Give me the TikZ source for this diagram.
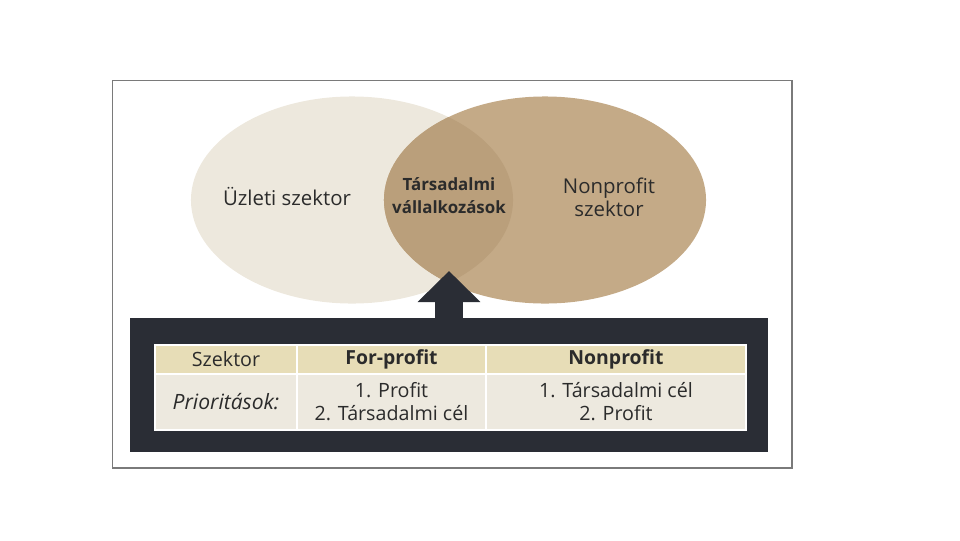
\documentclass[tikz,border=0pt]{standalone}
\usepackage{fontspec}
\setmainfont{Open Sans}
\usetikzlibrary{arrows.meta,shapes.geometric}
\definecolor{uzletfill}{HTML}{EDE8DD}
\definecolor{nonproffill}{HTML}{C4AA87}
\definecolor{metszetfill}{HTML}{BA9F7B}
\definecolor{sotet}{HTML}{2A2D35}
\definecolor{fejlec}{HTML}{E7DDB7}
\definecolor{torzs}{HTML}{EDE9DF}
\definecolor{szoveg}{HTML}{2B2B2B}
\definecolor{keret}{HTML}{7A7A7A}
\begin{document}
\begin{tikzpicture}[x=0.025cm, y=-0.025cm,
        venn/.style={ellipse, minimum width=8.05cm, minimum height=5.175cm, inner sep=0pt},
        felirat/.style={text=szoveg, font=\fontsize{14.5}{16.3}\selectfont, align=center},
        cella/.style={draw=white, line width=1.4pt, inner sep=0pt, text=szoveg, align=center,
            font=\fontsize{14}{16.3}\selectfont},
        fej/.style={cella, fill=fejlec, minimum height=0.725cm},
        sor/.style={cella, fill=torzs, minimum height=1.4cm},
        felnyil/.style={-{Triangle[width=1.525cm, length=0.775cm]}, line width=0.7cm, draw=sotet}]

        \useasboundingbox (0,0) rectangle (960,540);
        \draw[keret, line width=0.8pt] (112.5,80.5) rectangle (792,468);

        % Halmazok
        \node[venn, fill=uzletfill] (uzleti) at (352,200) {};
        \node[venn, fill=nonproffill] (nonprofit) at (545,200) {};
        \begin{scope}
            \clip (352,200) ellipse [x radius=4.025cm, y radius=2.5875cm];
            \fill[metszetfill] (545,200) ellipse [x radius=4.025cm, y radius=2.5875cm];
        \end{scope}

        \node[felirat] (uzlettxt) at (287,196) {Üzleti szektor};
        \node[felirat, font=\fontsize{12}{16.3}\selectfont\bfseries] (tarstxt) at (449,196) {Társadalmi\\vállalkozások};
        \node[felirat] (nonproftxt) at (609,197) {Nonprofit\\szektor};

        % Sotet doboz es nyil
        \node[fill=sotet, minimum width=15.95cm, minimum height=3.35cm, inner sep=0pt] (doboz) at (449,385) {};
        \coordinate (csucs) at (449,271);
        \draw[felnyil] (doboz.north) -- (csucs);

        % Tablazat
        \node[fej, minimum width=3.55cm] (szektor) at (226,359.5) {Szektor};
        \node[fej, minimum width=4.725cm, font=\fontsize{13.8}{16.3}\selectfont\bfseries] (forprofit) at (391.5,359.5) {For-profit};
        \node[fej, minimum width=6.5cm, font=\fontsize{13.8}{16.3}\selectfont\bfseries] (nonprofitfej) at (616,359.5) {Nonprofit};
        \node[sor, minimum width=3.55cm, font=\fontsize{15}{16.3}\selectfont\itshape] (prioritas) at (226,402) {Prioritások:};
        \node[sor, minimum width=4.725cm] (forprofitsor) at (391.5,402) {1. Profit\\2. Társadalmi cél};
        \node[sor, minimum width=6.5cm] (nonprofitsor) at (616,402) {1. Társadalmi cél\\2. Profit};

\end{tikzpicture}
\end{document}
